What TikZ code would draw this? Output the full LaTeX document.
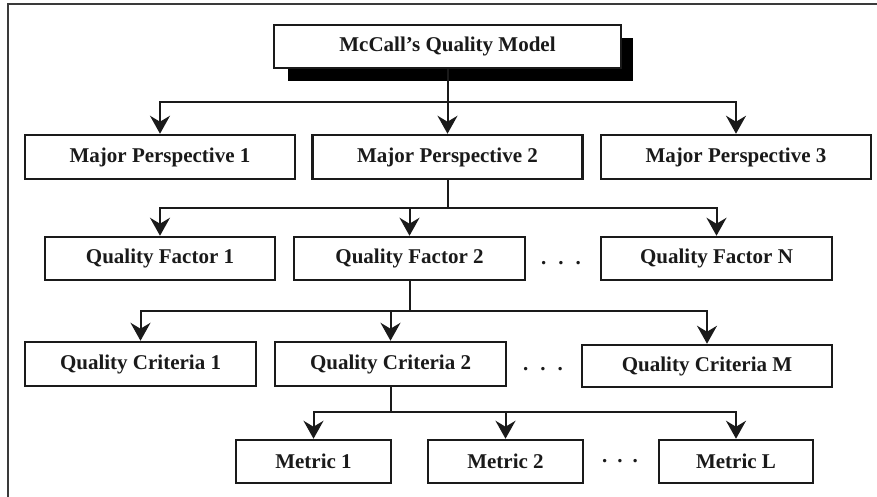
\documentclass[tikz,border=0pt]{standalone}
\usepackage{fontspec}
\setmainfont{Liberation Serif}
\usetikzlibrary{arrows.meta}
\definecolor{ink}{HTML}{1A1A1A}
\definecolor{framegray}{HTML}{3A3A3A}
\tikzset{
  box/.style={draw=ink, line width=2.5pt, fill=white, inner sep=0pt,
    minimum height=43pt, text=ink,
    font=\fontsize{21}{25}\selectfont\bfseries},
  link/.style={draw=ink, line width=2pt},
  arr/.style={link, -{Stealth[length=18pt,width=20pt,inset=6pt]}},
  dots/.style={text=ink, anchor=base, inner sep=0pt,
    font=\fontsize{21}{25}\selectfont\bfseries}
}
\begin{document}
\begin{tikzpicture}[x=1pt,y=-1pt]
\useasboundingbox (0,0) rectangle (877,497);
\fill[white] (0,0) rectangle (877,497);

% page frame (top and left edges)
\draw[framegray, line width=2pt] (877,4) -- (8,4) -- (8,497);

% root with drop shadow
\fill[black] (288,38) rectangle (633,81);
\node[box, minimum width=347pt] (top) at (447.5,46.5) {McCall’s Quality Model};

% major perspectives
\node[box, minimum width=270pt, minimum height=44pt] (mp1) at (160,157) {Major Perspective 1};
\node[box, minimum width=270pt, minimum height=44pt] (mp2) at (447.5,157) {Major Perspective 2};
\node[box, minimum width=270pt, minimum height=44pt] (mp3) at (736,157) {Major Perspective 3};

% quality factors
\node[box, minimum width=230pt] (qf1) at (160,258.5) {Quality Factor 1};
\node[box, minimum width=231pt] (qf2) at (409.5,258.5) {Quality Factor 2};
\node[box, minimum width=231pt] (qfn) at (716.5,258.5) {Quality Factor N};
\node[dots] (d1) at (561,264) {.\hspace{12pt}.\hspace{12pt}.};

% quality criteria
\node[box, minimum width=231pt, minimum height=44pt] (qc1) at (140.5,364) {Quality Criteria 1};
\node[box, minimum width=231pt, minimum height=44pt] (qc2) at (390.5,364) {Quality Criteria 2};
\node[box, minimum width=250pt, minimum height=42pt] (qcm) at (707,366) {Quality Criteria M};
\node[dots] (d2) at (543,370) {.\hspace{12pt}.\hspace{12pt}.};

% metrics
\node[box, minimum width=155pt] (m1) at (313.5,461.5) {Metric 1};
\node[box, minimum width=155pt] (m2) at (505.5,461.5) {Metric 2};
\node[box, minimum width=154pt] (ml) at (736,461.5) {Metric L};
\node[dots] (d3) at (620,462) {.\hspace{10pt}.\hspace{10pt}.};

% branch points
\coordinate (j1) at (447.5,102);
\coordinate (j2) at (447.5,208);
\coordinate (j3) at (409.5,311);
\coordinate (j4) at (390.5,412);

% connectors
\draw[link] (top.south) -- (j1);
\draw[arr] (j1) -| (mp1.north);
\draw[arr] (j1) -- (mp2.north);
\draw[arr] (j1) -| (mp3.north);

\draw[link] (mp2.south) -- (j2);
\draw[arr] (j2) -| (qf1.north);
\draw[arr] (j2) -| (qf2.north);
\draw[arr] (j2) -| (qfn.north);

\draw[link] (qf2.south) -- (j3);
\draw[arr] (j3) -| (qc1.north);
\draw[arr] (j3) -| (qc2.north);
\draw[arr] (j3) -| (qcm.north);

\draw[link] (qc2.south) -- (j4);
\draw[arr] (j4) -| (m1.north);
\draw[arr] (j4) -| (m2.north);
\draw[arr] (j4) -| (ml.north);
\end{tikzpicture}
\end{document}
